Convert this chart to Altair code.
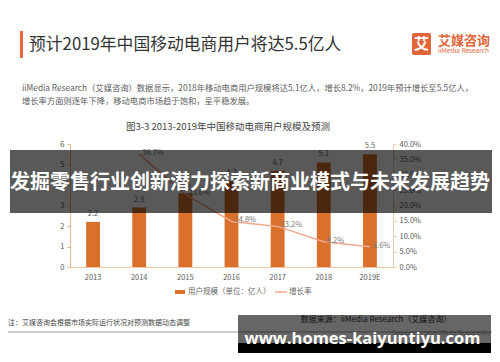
import altair as alt
import pandas as pd

FONT = "Noto Sans CJK SC"
ORANGE = "#D9702B"
LINE = "#F2A98C"

years = ["2013", "2014", "2015", "2016", "2017", "2018", "2019E"]
users = [2.2, 2.9, 3.6, 4.2, 4.7, 5.1, 5.5]
growth_pct = [None, 36.7, 23.6, 14.8, 13.2, 8.2, 6.6]
left_ticks = [0, 1, 2, 3, 4, 5, 6]
right_ticks = [0, 0.05, 0.10, 0.15, 0.20, 0.25, 0.30, 0.35, 0.40]

df = pd.DataFrame({"year": years, "users": users})
gdf = pd.DataFrame({"year": [y for y, g in zip(years, growth_pct) if g is not None],
                    "growth": [g / 100 for g in growth_pct if g is not None]})
one = pd.DataFrame({"k": [0]})

xscale = alt.Scale(type="band", paddingInner=0.7, paddingOuter=0.35)
xaxis = alt.Axis(title=None, labelAngle=0, ticks=False, domainColor="#F2C3A3",
                 labelColor="#595959", labelFontSize=7.5, labelPadding=6, labelFont=FONT)
X = alt.X("year:N", sort=years, scale=xscale, axis=xaxis)

yl = alt.Y("users:Q", scale=alt.Scale(domain=[0, 6], nice=False),
           axis=alt.Axis(title=None, values=left_ticks, grid=False, domainColor="#F0B58F",
                         tickColor="#F0B58F", tickSize=3, labelColor="#595959",
                         labelFontSize=7.5, labelPadding=3, labelFont=FONT))
yr = alt.Y("growth:Q", scale=alt.Scale(domain=[0, 0.4], nice=False),
           axis=alt.Axis(title=None, orient="right", values=right_ticks, format=".1%", grid=False,
                         domainColor="#E6CDB4", tickColor="#E6CDB4", tickSize=3,
                         labelColor="#595959", labelFontSize=7.5, labelPadding=3, labelFont=FONT))

bars = alt.Chart(df).mark_bar(color=ORANGE).encode(x=X, y=yl)
bar_labels = alt.Chart(df).mark_text(dy=-8, font=FONT, fontSize=7.5, color="#666").encode(
    x=X, y=yl, text=alt.Text("users:Q", format=".1f"))
left = alt.layer(bars, bar_labels)

line = alt.Chart(gdf).mark_line(color=LINE, strokeWidth=1.5).encode(x=X, y=yr)
line_labels = alt.Chart(gdf).mark_text(align="left", dx=3, dy=-1, font=FONT, fontSize=7.5,
                                       color="#777").encode(
    x=X, y=yr, text=alt.Text("growth:Q", format=".1%"))
right = alt.layer(line, line_labels)


def txt(text, x, y, size, color, weight="normal", align="left", font=FONT, opacity=1):
    return alt.Chart(one).mark_text(text=text, align=align, baseline="middle", font=font,
                                    fontSize=size, fontWeight=weight, color=color,
                                    opacity=opacity).encode(x=alt.value(x), y=alt.value(y))


def rect(x, x2, y, y2, color, opacity=1, radius=0):
    return alt.Chart(one).mark_rect(color=color, opacity=opacity, cornerRadius=radius).encode(
        x=alt.value(x), x2=alt.value(x2), y=alt.value(y), y2=alt.value(y2))


def rule(x, x2, y, color, width):
    return alt.Chart(one).mark_rule(color=color, strokeWidth=width).encode(
        x=alt.value(x), x2=alt.value(x2), y=alt.value(y))


decos = [
    # header
    rect(-50, -47, -113, -86, "#E8683A"),
    txt("预计2019年中国移动电商用户将达5.5亿人", -41, -99, 16.8, "#333333"),
    rect(342, 361, -111, -89, "#E0663A", radius=2),
    txt("艾", 351.5, -100, 15, "white", weight="bold", align="center"),
    txt("艾媒咨询", 368, -103, 13, "#E0663A", weight="bold"),
    txt("iiMedia Research", 368, -93, 6.5, "#E0663A"),
    txt("iiMedia  Research（艾媒咨询）数据显示，2018年移动电商用户规模将达5.1亿人，增长8.2%，2019年预计增长至5.5亿人，",
        -48, -55, 8.3, "#5c5c5c"),
    txt("增长率方面则逐年下降，移动电商市场趋于饱和，呈平稳发展。", -48, -42, 8.3, "#5c5c5c"),
    txt("图3-3 2013-2019年中国移动电商用户规模及预测", 158, -17, 9.5, "#444444", align="center"),
    # legend
    rect(105, 115, 146, 150, ORANGE),
    txt("用户规模（单位：亿人）", 118, 148, 7.5, "#666666"),
    rule(205, 217, 148, LINE, 1.5),
    txt("增长率", 219, 148, 7.5, "#666666"),
    # footer
    txt("注：艾媒咨询会根据市场实际运行状况对预测数据动态调整", -62, 178.7, 7, "#444444"),
    rule(-62, 422, 188, "#BBBBBB", 1.5),
    txt("数据来源：iiMedia Research（艾媒咨询）", 306, 176, 8, "#333333", align="center"),
    txt("Copyright © 2019 iiMedia Research Inc", 420, 189, 5.5, "#999999", align="right"),
    # overlays
    rect(-60, 422, 6, 69, "black", opacity=0.65),
    txt("发掘零售行业创新潜力探索新商业模式与未来发展趋势", 180, 38.7, 20, "white", weight="bold",
        align="center"),
    rect(168, 421, 171, 199, "black", opacity=0.6),
    rect(168, 421, 199, 209, "black"),
    txt("www.homes-kaiyuntiyu.com", 292.5, 194.5, 16.5, "white", weight="bold", align="center",
        font="Open Sans"),
]

chart = alt.layer(left, right, *decos).resolve_scale(y="independent").properties(
    width=323, height=123,
    autosize=alt.AutoSizeParams(type="none"),
    padding={"left": 62, "top": 136, "right": 99, "bottom": 87},
    background="white",
).configure_view(stroke=None)

chart.save("out.html", embed_options={"renderer": "svg", "actions": False})
